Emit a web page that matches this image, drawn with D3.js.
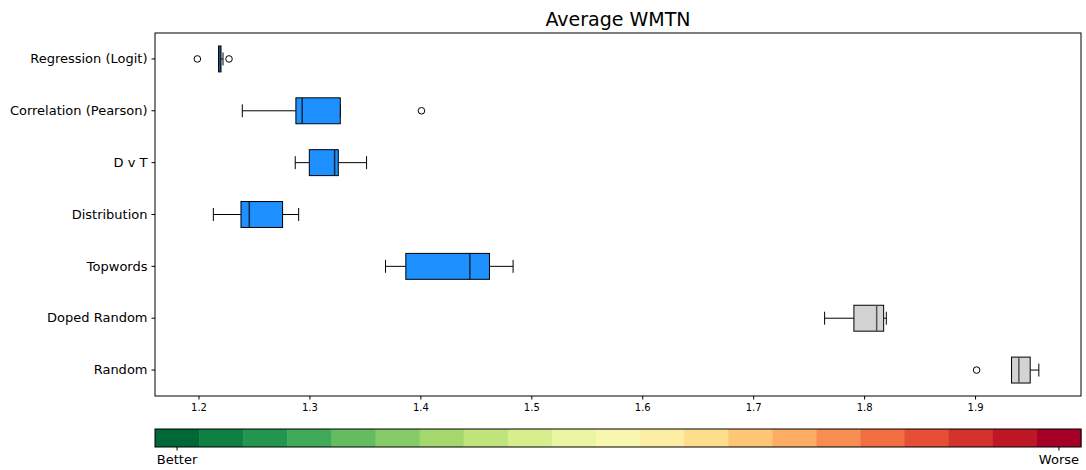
<!DOCTYPE html>
<html>
<head>
<meta charset="utf-8">
<script src="https://cdn.jsdelivr.net/npm/d3@7"></script>
<style>
  body { margin: 0; background: #fff; }
  text { font-family: "DejaVu Sans", sans-serif; fill: #000; }
</style>
</head>
<body>
<div id="chart"></div>
<script>
// Box statistics
const categories = ['Regression (Logit)', 'Correlation (Pearson)', 'D v T', 'Distribution', 'Topwords', 'Doped Random', 'Random'];
const whiskerLow = [1.2181, 1.2395, 1.2872, 1.2134, 1.3686, 1.7644, 1.9329];
const q1 = [1.2181, 1.2878, 1.2999, 1.2383, 1.3869, 1.7908, 1.9329];
const medians = [1.2196, 1.2935, 1.3227, 1.2458, 1.4446, 1.8113, 1.9395];
const q3 = [1.2203, 1.3278, 1.3260, 1.2758, 1.4623, 1.8176, 1.9497];
const whiskerHigh = [1.2221, 1.3278, 1.3515, 1.2903, 1.4836, 1.8200, 1.9575];
const outliers = [[1.1990, 1.2275], [1.4010], [], [], [], [], [1.9014]];
const boxColors = ['#1e90ff', '#1e90ff', '#1e90ff', '#1e90ff', '#1e90ff', '#d3d3d3', '#d3d3d3'];
const xTicks = [1.2, 1.3, 1.4, 1.5, 1.6, 1.7, 1.8, 1.9];
const xDomain = [1.1608, 1.9955];
const colorSteps = 21;
const colorLabels = ['Better', 'Worse'];

const width = 1086, height = 470;
const margin = {top: 33, right: 5, bottom: 74, left: 155};

const svg = d3.select('#chart').append('svg')
    .attr('width', width)
    .attr('height', height);

const x = d3.scaleLinear()
    .domain(xDomain)
    .range([margin.left, width - margin.right]);

const y = d3.scaleBand()
    .domain(categories)
    .range([margin.top, height - margin.bottom]);

const boxH = y.bandwidth() * 0.5;
const capH = boxH * 0.5;

// title
svg.append('text')
    .attr('x', (margin.left + width - margin.right) / 2)
    .attr('y', 26)
    .attr('text-anchor', 'middle')
    .style('font-size', '19px')
    .text('Average WMTN');

// x axis
const xAxis = svg.append('g')
    .attr('transform', `translate(0,${height - margin.bottom})`)
    .call(d3.axisBottom(x).tickValues(xTicks).tickFormat(d3.format('.1f')).tickSize(3.5).tickPadding(4));
xAxis.selectAll('text').style('font-size', '10px');
xAxis.select('.domain').remove();

// y axis
const yAxis = svg.append('g')
    .attr('transform', `translate(${margin.left},0)`)
    .call(d3.axisLeft(y).tickSize(3.5).tickPadding(4));
yAxis.selectAll('text').style('font-size', '13px');
yAxis.select('.domain').remove();

// boxes
const rows = svg.append('g')
    .selectAll('g')
    .data(categories)
    .enter().append('g')
    .attr('transform', d => `translate(0,${y(d) + y.bandwidth() / 2})`);

rows.append('line')
    .attr('x1', (d, i) => x(whiskerLow[i]))
    .attr('x2', (d, i) => x(q1[i]))
    .attr('stroke', '#000');
rows.append('line')
    .attr('x1', (d, i) => x(q3[i]))
    .attr('x2', (d, i) => x(whiskerHigh[i]))
    .attr('stroke', '#000');
rows.append('line')
    .attr('x1', (d, i) => x(whiskerLow[i]))
    .attr('x2', (d, i) => x(whiskerLow[i]))
    .attr('y1', -capH / 2).attr('y2', capH / 2)
    .attr('stroke', '#000');
rows.append('line')
    .attr('x1', (d, i) => x(whiskerHigh[i]))
    .attr('x2', (d, i) => x(whiskerHigh[i]))
    .attr('y1', -capH / 2).attr('y2', capH / 2)
    .attr('stroke', '#000');

rows.append('rect')
    .attr('x', (d, i) => x(q1[i]))
    .attr('width', (d, i) => Math.max(x(q3[i]) - x(q1[i]), 0.5))
    .attr('y', -boxH / 2)
    .attr('height', boxH)
    .attr('fill', (d, i) => boxColors[i])
    .attr('stroke', '#000');

rows.append('line')
    .attr('x1', (d, i) => x(medians[i]))
    .attr('x2', (d, i) => x(medians[i]))
    .attr('y1', -boxH / 2).attr('y2', boxH / 2)
    .attr('stroke', (d, i) => i < 5 ? '#0b2740' : '#555')
    .attr('stroke-width', 1.5);

rows.selectAll('circle')
    .data((d, i) => outliers[i])
    .enter().append('circle')
    .attr('cx', v => x(v))
    .attr('cy', 0)
    .attr('r', 3.3)
    .attr('fill', 'none')
    .attr('stroke', '#000');

// frame
svg.append('rect')
    .attr('x', margin.left)
    .attr('y', margin.top)
    .attr('width', width - margin.right - margin.left)
    .attr('height', height - margin.bottom - margin.top)
    .attr('fill', 'none')
    .attr('stroke', '#000');

// colour bar
const cb = d3.scaleBand()
    .domain(d3.range(colorSteps))
    .range([margin.left, width - margin.right]);
const cbTop = 429, cbH = 18;
svg.append('g')
    .selectAll('rect')
    .data(d3.range(colorSteps))
    .enter().append('rect')
    .attr('x', d => cb(d))
    .attr('y', cbTop)
    .attr('width', cb.bandwidth() + 0.5)
    .attr('height', cbH)
    .attr('fill', d => d3.interpolateRdYlGn(1 - d / (colorSteps - 1)));
svg.append('rect')
    .attr('x', margin.left)
    .attr('y', cbTop)
    .attr('width', width - margin.right - margin.left)
    .attr('height', cbH)
    .attr('fill', 'none')
    .attr('stroke', '#000');

const cbTicks = [cb(0) + cb.bandwidth() / 2, cb(colorSteps - 1) + cb.bandwidth() / 2];
cbTicks.forEach((cx, i) => {
    svg.append('line')
        .attr('x1', cx).attr('x2', cx)
        .attr('y1', cbTop + cbH).attr('y2', cbTop + cbH + 3.5)
        .attr('stroke', '#000');
    svg.append('text')
        .attr('x', cx)
        .attr('y', cbTop + cbH + 17)
        .attr('text-anchor', 'middle')
        .style('font-size', '13px')
        .text(colorLabels[i]);
});
</script>
</body>
</html>
